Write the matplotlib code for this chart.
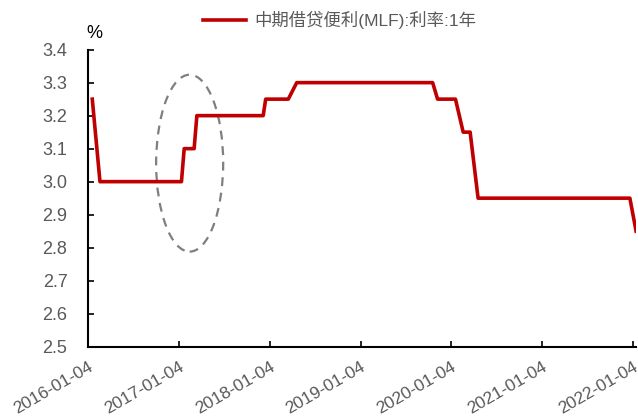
import pandas as pd
import matplotlib.pyplot as plt
import matplotlib.dates as mdates
from matplotlib.patches import Ellipse

plt.rcParams['font.family'] = ['Liberation Sans', 'Noto Sans CJK SC', 'DejaVu Sans']

# MLF 1-year rate, operation dates and levels
dates = ['2016-01-20', '2016-02-20', '2017-01-13', '2017-01-24', '2017-03-05', '2017-03-16',
         '2017-12-08', '2017-12-18', '2018-03-19', '2018-04-22', '2019-10-21', '2019-11-10',
         '2020-01-21', '2020-02-21', '2020-03-20', '2020-04-21', '2021-12-23', '2022-01-17']
rate = [3.25, 3.00, 3.00, 3.10, 3.10, 3.20,
        3.20, 3.25, 3.25, 3.30, 3.30, 3.25,
        3.25, 3.15, 3.15, 2.95, 2.95, 2.85]
tick_dates = ['2016-01-04', '2017-01-04', '2018-01-04', '2019-01-04',
              '2020-01-04', '2021-01-04', '2022-01-04']

df = pd.DataFrame({'date': pd.to_datetime(dates), 'rate': rate})
ticks = pd.to_datetime(tick_dates)

fig = plt.figure(figsize=(6.38, 4.17), dpi=100)
ax = fig.add_axes([0.1384, 0.1686, 0.8586, 0.7124])

ax.plot(df['date'], df['rate'], color='#C00000', lw=2.6, label='中期借贷便利(MLF):利率:1年')

# highlight the 2017 hikes
ell = Ellipse((mdates.date2num(pd.Timestamp('2017-02-15')), 3.056), width=270, height=0.536,
              fill=False, ls=(0, (4, 3)), lw=1.6, edgecolor='#7f7f7f')
ax.add_patch(ell)

ax.set_xlim(pd.Timestamp('2016-01-04'), pd.Timestamp('2022-01-17'))
ax.set_ylim(2.5, 3.4)
ax.set_yticks([2.5, 2.6, 2.7, 2.8, 2.9, 3.0, 3.1, 3.2, 3.3, 3.4])
ax.set_xticks(ticks)
ax.set_xticklabels(tick_dates, rotation=30, ha='right', rotation_mode='anchor')
ax.yaxis.set_major_formatter(plt.FormatStrFormatter('%.1f'))

for s in ['top', 'right']:
    ax.spines[s].set_visible(False)
for s in ['left', 'bottom']:
    ax.spines[s].set_linewidth(1.5)
ax.tick_params(axis='both', direction='in', length=4, width=1.2, colors='black')
ax.tick_params(axis='y', labelsize=13, labelcolor='#595959', pad=15)
ax.tick_params(axis='x', labelsize=12.5, labelcolor='#595959', pad=9)

fig.text(0.135, 0.909, '%', fontsize=13, color='black')

leg = fig.legend(loc='center', bbox_to_anchor=(0.532, 0.952), frameon=False, fontsize=12.5,
                 handlelength=2.5, handletextpad=0.45)
for t in leg.get_texts():
    t.set_color('#595959')

fig.savefig('out.png', dpi=100)
